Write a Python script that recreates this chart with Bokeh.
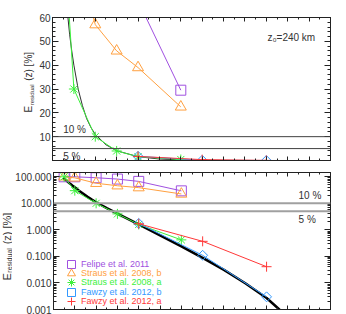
from bokeh.plotting import figure
from bokeh.models import (LinearAxis, LogAxis, SingleIntervalTicker, FixedTicker,
                          PrintfTickFormatter, Span, Label, Legend, LegendItem,
                          CustomJSTickFormatter)
from bokeh.layouts import column, row
from bokeh.embed import file_html
from bokeh.resources import INLINE
import math

# ---- data ----
felipe_x = [0.5, 1, 2, 3, 4, 6]
felipe_y = [100, 100, 92, 82, 67, 29.5]
straus_b_x = [0.5, 1, 2, 3, 4, 6]
straus_b_y = [100, 91, 57, 46, 39, 22.5]
straus_a_x = [0.5, 1, 2, 3, 4, 6]
straus_a_y = [100, 30, 10, 4, 1.6, 0.42]
fawzy_b_x = [4, 7, 10]
fawzy_b_y = [1.75, 0.11, 0.003]
fawzy_a_x = [4, 7, 10]
fawzy_a_y = [1.7, 0.37, 0.041]
model_x = [0.45, 0.6, 0.7, 0.8, 0.9, 1.0, 1.2, 1.4, 1.6, 1.8, 2.0, 2.5, 3, 4, 5, 6, 7, 8, 9, 10, 10.6, 11]
model_y = [90, 72, 62, 53, 46, 40, 30, 23, 17.5, 13.8, 11, 6.6, 4.1, 1.6, 0.62, 0.24, 0.088,
           0.031, 0.0098, 0.0027, 0.001, 0.0006]
thresholds = [10, 5]
threshold_labels = ["10 %", "5 %"]
lin_ticks_interval = 10
log_ticks = [0.001, 0.01, 0.1, 1, 10, 100]
log_minor = [m * d for d in [0.001, 0.01, 0.1, 1, 10, 100] for m in range(2, 10)]
legend_names = ["Felipe et al. 2011", "Straus et al. 2008, b", "Straus et al. 2008, a",
                "Fawzy et al. 2012, b", "Fawzy et al. 2012, a"]

C_PURPLE = "#A050E0"
C_ORANGE = "#FFA040"
C_GREEN = "#3CF03C"
C_BLUE = "#3399FF"
C_RED = "#FF3838"
C_TEXT = "#333333"
C_AX = "#222222"
FONT = "Liberation Sans"

BLANK = CustomJSTickFormatter(code="return ''")


def style_axis(ax, major_in, minor_in, labels=True):
    ax.major_tick_in = major_in
    ax.major_tick_out = 0
    ax.minor_tick_in = minor_in
    ax.minor_tick_out = 0
    ax.axis_line_color = C_AX
    ax.major_tick_line_color = C_AX
    ax.minor_tick_line_color = C_AX
    ax.major_label_text_font = FONT
    ax.major_label_text_color = C_TEXT
    ax.major_label_text_font_size = "10px"
    ax.major_label_standoff = 2
    if not labels:
        ax.formatter = BLANK
        ax.major_label_standoff = 0


def base_fig(width, height, left, top, bottom, **kw):
    p = figure(width=width, height=height, output_backend="svg", toolbar_location=None,
               x_range=(0, 13), min_border_left=left, min_border_right=10,
               min_border_top=top, min_border_bottom=bottom, **kw)
    p.xgrid.visible = False
    p.ygrid.visible = False
    p.outline_line_color = C_AX
    p.background_fill_color = "white"
    p.border_fill_color = "white"
    return p


def label_fig(width, height, x, y0, big, small):
    # a narrow blank canvas that carries the rotated y-axis title E_residual (z) [%]
    f = figure(width=width, height=height, output_backend="svg", toolbar_location=None,
               x_range=(0, 1), y_range=(0, 1), x_axis_location=None, y_axis_location=None,
               min_border=0)
    f.xgrid.visible = False
    f.ygrid.visible = False
    f.outline_line_color = None
    f.border_fill_color = "white"
    f.background_fill_color = "white"
    e_len = big * 0.667
    r_len = small * 3.5
    common = dict(x_units="screen", y_units="screen", angle=math.pi / 2,
                  text_align="left", text_baseline="middle", text_font=FONT,
                  text_color=C_TEXT)
    f.add_layout(Label(x=x, y=y0, text="E", text_font_size=f"{big}px", **common))
    f.add_layout(Label(x=x + 0.3 * big, y=y0 + e_len + 0.5, text="residual",
                       text_font_size=f"{small}px", **common))
    f.add_layout(Label(x=x, y=y0 + e_len + r_len + 0.3 * big + 1, text="(z) [%]",
                       text_font_size=f"{big}px", **common))
    return f


def add_series(p):
    r = {}
    p.line(felipe_x, felipe_y, line_color=C_PURPLE, line_width=1)
    r[0] = p.scatter(felipe_x, felipe_y, marker="square", size=10, fill_color=None,
                     line_color=C_PURPLE, line_width=1)
    p.line(straus_b_x, straus_b_y, line_color=C_ORANGE, line_width=1)
    r[1] = p.scatter(straus_b_x, straus_b_y, marker="triangle", size=11, fill_color=None,
                     line_color=C_ORANGE, line_width=1)
    p.line(straus_a_x, straus_a_y, line_color=C_GREEN, line_width=1)
    r[2] = p.scatter(straus_a_x, straus_a_y, marker="asterisk", size=10,
                     line_color=C_GREEN, line_width=1)
    p.line(fawzy_b_x, fawzy_b_y, line_color=C_BLUE, line_width=1)
    r[3] = p.scatter(fawzy_b_x, fawzy_b_y, marker="square", angle=math.pi / 4, size=7,
                     fill_color=None, line_color=C_BLUE, line_width=1)
    p.line(fawzy_a_x, fawzy_a_y, line_color=C_RED, line_width=1)
    r[4] = p.scatter(fawzy_a_x, fawzy_a_y, marker="cross", size=10,
                     line_color=C_RED, line_width=1)
    return r


# ---------------- top panel (linear) ----------------
LW1 = 36
p1 = base_fig(340 - LW1, 166, 52 - LW1, 17, 6, y_range=(0, 60))
p1.line(model_x, model_y, line_color="#303030", line_width=1)
add_series(p1)
for t in thresholds:
    p1.add_layout(Span(location=t, dimension="width", line_color="#404040", line_width=1))

yt1 = SingleIntervalTicker(interval=lin_ticks_interval, num_minor_ticks=5)
xt = SingleIntervalTicker(interval=1, num_minor_ticks=2)
p1.yaxis.ticker = yt1
p1.yaxis.major_label_overrides = {0: ""}
p1.xaxis.ticker = xt
style_axis(p1.yaxis[0], 6, 3)
style_axis(p1.xaxis[0], 4, 2, labels=False)
ax = LinearAxis(ticker=yt1)
style_axis(ax, 6, 3, labels=False)
p1.add_layout(ax, "right")
ax = LinearAxis(ticker=xt)
style_axis(ax, 4, 2, labels=False)
p1.add_layout(ax, "above")

p1.add_layout(Label(x=0.5, y=thresholds[0], y_offset=2, text=threshold_labels[0],
                    text_baseline="bottom", text_font=FONT, text_font_size="10px",
                    text_color=C_TEXT))
p1.add_layout(Label(x=0.5, y=thresholds[1], y_offset=-2, text=threshold_labels[1],
                    text_baseline="top", text_font=FONT, text_font_size="10px",
                    text_color=C_TEXT))
p1.add_layout(Label(x=10.05, y=51.8, text="z\u2080=240 km", text_baseline="middle",
                    text_font=FONT, text_font_size="10px", text_color=C_TEXT))
lab1 = label_fig(LW1, 166, 28, 48, 10, 6)

# ---------------- bottom panel (log) ----------------
LW2 = 12
p2 = base_fig(340 - LW2, 148, 52 - LW2, 6, 5, y_range=(0.001, 145), y_axis_type="log")
p2.line(model_x, model_y, line_color="black", line_width=2.5)
rs = add_series(p2)
for t in thresholds:
    p2.add_layout(Span(location=t, dimension="width", line_color="#a0a0a0", line_width=2))

yt2 = FixedTicker(ticks=log_ticks, minor_ticks=log_minor)
p2.yaxis.ticker = yt2
p2.yaxis.formatter = PrintfTickFormatter(format="%.3f")
p2.xaxis.ticker = xt
style_axis(p2.yaxis[0], 6, 3)
style_axis(p2.xaxis[0], 4, 2, labels=False)
ax = LogAxis(ticker=yt2)
style_axis(ax, 6, 3, labels=False)
p2.add_layout(ax, "right")
ax = LinearAxis(ticker=xt)
style_axis(ax, 4, 2, labels=False)
p2.add_layout(ax, "above")

p2.add_layout(Label(x=11.5, y=thresholds[0], y_offset=2, text=threshold_labels[0],
                    text_baseline="bottom", text_font=FONT, text_font_size="10px",
                    text_color=C_TEXT))
p2.add_layout(Label(x=11.5, y=thresholds[1], y_offset=-3, text=threshold_labels[1],
                    text_baseline="top", text_font=FONT, text_font_size="10px",
                    text_color=C_TEXT))
lab2 = label_fig(LW2, 148, 6, 29, 11, 7)

colors = [C_PURPLE, C_ORANGE, C_GREEN, C_BLUE, C_RED]
row_bottoms = [35, 25.8, 16.6, 7.4, -1.8]
for i, name in enumerate(legend_names):
    lg = Legend(items=[LegendItem(label=name, renderers=[rs[i]])],
                location=(8, row_bottoms[i]), glyph_width=20, glyph_height=20,
                label_height=20, label_standoff=0, padding=0, margin=0, spacing=0,
                border_line_alpha=0, background_fill_alpha=0,
                label_text_color=colors[i], label_text_font=FONT,
                label_text_font_size="9px")
    p2.add_layout(lg)

layout = column(row(lab1, p1, spacing=0), row(lab2, p2, spacing=0), spacing=0)
open("out.html", "w").write(file_html(layout, INLINE))
